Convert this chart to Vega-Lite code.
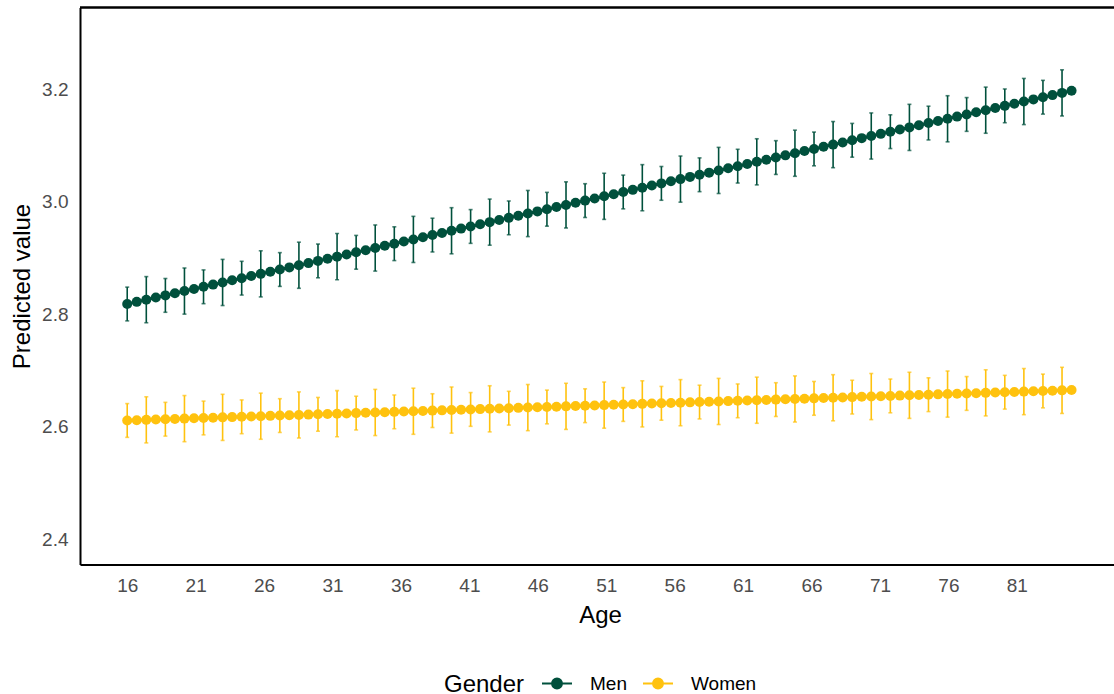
{
  "$schema": "https://vega.github.io/schema/vega-lite/v6.json",
  "width": 1034,
  "height": 557,
  "autosize": {"type": "none"},
  "padding": {"left": 80, "top": 7.5, "right": 0, "bottom": 129.5},
  "config": {
    "font": "Liberation Sans",
    "view": {"stroke": null},
    "axis": {"grid": false, "ticks": false, "domainColor": "#000000", "domainWidth": 2, "labelColor": "#4D4D4D", "labelFontSize": 19, "labelFont": "Liberation Sans", "titleFontSize": 24, "titleFontWeight": "normal", "titleColor": "#000000", "titleFont": "Liberation Sans"}
  },
  "data": {"values": [
    {"a":16,"g":"Men","v":2.818,"e":0.03},{"a":16.697,"g":"Men","v":2.8218},{"a":17.394,"g":"Men","v":2.8257,"e":0.041},{"a":18.091,"g":"Men","v":2.8295},
    {"a":18.788,"g":"Men","v":2.8333,"e":0.03},{"a":19.485,"g":"Men","v":2.8371},{"a":20.182,"g":"Men","v":2.841,"e":0.041},{"a":20.879,"g":"Men","v":2.8448},
    {"a":21.576,"g":"Men","v":2.8486,"e":0.03},{"a":22.273,"g":"Men","v":2.8525},{"a":22.97,"g":"Men","v":2.8563,"e":0.041},{"a":23.667,"g":"Men","v":2.8601},
    {"a":24.364,"g":"Men","v":2.8639,"e":0.03},{"a":25.061,"g":"Men","v":2.8678},{"a":25.758,"g":"Men","v":2.8716,"e":0.041},{"a":26.455,"g":"Men","v":2.8754},
    {"a":27.152,"g":"Men","v":2.8793,"e":0.03},{"a":27.848,"g":"Men","v":2.8831},{"a":28.545,"g":"Men","v":2.8869,"e":0.041},{"a":29.242,"g":"Men","v":2.8907},
    {"a":29.939,"g":"Men","v":2.8946,"e":0.03},{"a":30.636,"g":"Men","v":2.8984},{"a":31.333,"g":"Men","v":2.9022,"e":0.041},{"a":32.03,"g":"Men","v":2.9061},
    {"a":32.727,"g":"Men","v":2.9099,"e":0.03},{"a":33.424,"g":"Men","v":2.9137},{"a":34.121,"g":"Men","v":2.9175,"e":0.041},{"a":34.818,"g":"Men","v":2.9214},
    {"a":35.515,"g":"Men","v":2.9252,"e":0.03},{"a":36.212,"g":"Men","v":2.929},{"a":36.909,"g":"Men","v":2.9328,"e":0.041},{"a":37.606,"g":"Men","v":2.9367},
    {"a":38.303,"g":"Men","v":2.9405,"e":0.03},{"a":39,"g":"Men","v":2.9443},{"a":39.697,"g":"Men","v":2.9482,"e":0.041},{"a":40.394,"g":"Men","v":2.952},
    {"a":41.091,"g":"Men","v":2.9558,"e":0.03},{"a":41.788,"g":"Men","v":2.9596},{"a":42.485,"g":"Men","v":2.9635,"e":0.041},{"a":43.182,"g":"Men","v":2.9673},
    {"a":43.879,"g":"Men","v":2.9711,"e":0.03},{"a":44.576,"g":"Men","v":2.975},{"a":45.273,"g":"Men","v":2.9788,"e":0.041},{"a":45.97,"g":"Men","v":2.9826},
    {"a":46.667,"g":"Men","v":2.9864,"e":0.03},{"a":47.364,"g":"Men","v":2.9903},{"a":48.061,"g":"Men","v":2.9941,"e":0.041},{"a":48.758,"g":"Men","v":2.9979},
    {"a":49.455,"g":"Men","v":3.0018,"e":0.03},{"a":50.152,"g":"Men","v":3.0056},{"a":50.848,"g":"Men","v":3.0094,"e":0.041},{"a":51.545,"g":"Men","v":3.0132},
    {"a":52.242,"g":"Men","v":3.0171,"e":0.03},{"a":52.939,"g":"Men","v":3.0209},{"a":53.636,"g":"Men","v":3.0247,"e":0.041},{"a":54.333,"g":"Men","v":3.0286},
    {"a":55.03,"g":"Men","v":3.0324,"e":0.03},{"a":55.727,"g":"Men","v":3.0362},{"a":56.424,"g":"Men","v":3.04,"e":0.041},{"a":57.121,"g":"Men","v":3.0439},
    {"a":57.818,"g":"Men","v":3.0477,"e":0.03},{"a":58.515,"g":"Men","v":3.0515},{"a":59.212,"g":"Men","v":3.0554,"e":0.041},{"a":59.909,"g":"Men","v":3.0592},
    {"a":60.606,"g":"Men","v":3.063,"e":0.03},{"a":61.303,"g":"Men","v":3.0668},{"a":62,"g":"Men","v":3.0707,"e":0.041},{"a":62.697,"g":"Men","v":3.0745},
    {"a":63.394,"g":"Men","v":3.0783,"e":0.03},{"a":64.091,"g":"Men","v":3.0822},{"a":64.788,"g":"Men","v":3.086,"e":0.041},{"a":65.485,"g":"Men","v":3.0898},
    {"a":66.182,"g":"Men","v":3.0936,"e":0.03},{"a":66.879,"g":"Men","v":3.0975},{"a":67.576,"g":"Men","v":3.1013,"e":0.041},{"a":68.273,"g":"Men","v":3.1051},
    {"a":68.97,"g":"Men","v":3.109,"e":0.03},{"a":69.667,"g":"Men","v":3.1128},{"a":70.364,"g":"Men","v":3.1166,"e":0.041},{"a":71.061,"g":"Men","v":3.1204},
    {"a":71.758,"g":"Men","v":3.1243,"e":0.03},{"a":72.455,"g":"Men","v":3.1281},{"a":73.152,"g":"Men","v":3.1319,"e":0.041},{"a":73.848,"g":"Men","v":3.1357},
    {"a":74.545,"g":"Men","v":3.1396,"e":0.03},{"a":75.242,"g":"Men","v":3.1434},{"a":75.939,"g":"Men","v":3.1472,"e":0.041},{"a":76.636,"g":"Men","v":3.1511},
    {"a":77.333,"g":"Men","v":3.1549,"e":0.03},{"a":78.03,"g":"Men","v":3.1587},{"a":78.727,"g":"Men","v":3.1625,"e":0.041},{"a":79.424,"g":"Men","v":3.1664},
    {"a":80.121,"g":"Men","v":3.1702,"e":0.03},{"a":80.818,"g":"Men","v":3.174},{"a":81.515,"g":"Men","v":3.1779,"e":0.041},{"a":82.212,"g":"Men","v":3.1817},
    {"a":82.909,"g":"Men","v":3.1855,"e":0.03},{"a":83.606,"g":"Men","v":3.1893},{"a":84.303,"g":"Men","v":3.1932,"e":0.041},{"a":85,"g":"Men","v":3.197},
    {"a":16,"g":"Women","v":2.611,"e":0.03},{"a":16.697,"g":"Women","v":2.6115},{"a":17.394,"g":"Women","v":2.6121,"e":0.041},{"a":18.091,"g":"Women","v":2.6126},
    {"a":18.788,"g":"Women","v":2.6132,"e":0.03},{"a":19.485,"g":"Women","v":2.6137},{"a":20.182,"g":"Women","v":2.6143,"e":0.041},{"a":20.879,"g":"Women","v":2.6148},
    {"a":21.576,"g":"Women","v":2.6154,"e":0.03},{"a":22.273,"g":"Women","v":2.6159},{"a":22.97,"g":"Women","v":2.6165,"e":0.041},{"a":23.667,"g":"Women","v":2.617},
    {"a":24.364,"g":"Women","v":2.6175,"e":0.03},{"a":25.061,"g":"Women","v":2.6181},{"a":25.758,"g":"Women","v":2.6186,"e":0.041},{"a":26.455,"g":"Women","v":2.6192},
    {"a":27.152,"g":"Women","v":2.6197,"e":0.03},{"a":27.848,"g":"Women","v":2.6203},{"a":28.545,"g":"Women","v":2.6208,"e":0.041},{"a":29.242,"g":"Women","v":2.6214},
    {"a":29.939,"g":"Women","v":2.6219,"e":0.03},{"a":30.636,"g":"Women","v":2.6225},{"a":31.333,"g":"Women","v":2.623,"e":0.041},{"a":32.03,"g":"Women","v":2.6235},
    {"a":32.727,"g":"Women","v":2.6241,"e":0.03},{"a":33.424,"g":"Women","v":2.6246},{"a":34.121,"g":"Women","v":2.6252,"e":0.041},{"a":34.818,"g":"Women","v":2.6257},
    {"a":35.515,"g":"Women","v":2.6263,"e":0.03},{"a":36.212,"g":"Women","v":2.6268},{"a":36.909,"g":"Women","v":2.6274,"e":0.041},{"a":37.606,"g":"Women","v":2.6279},
    {"a":38.303,"g":"Women","v":2.6285,"e":0.03},{"a":39,"g":"Women","v":2.629},{"a":39.697,"g":"Women","v":2.6295,"e":0.041},{"a":40.394,"g":"Women","v":2.6301},
    {"a":41.091,"g":"Women","v":2.6306,"e":0.03},{"a":41.788,"g":"Women","v":2.6312},{"a":42.485,"g":"Women","v":2.6317,"e":0.041},{"a":43.182,"g":"Women","v":2.6323},
    {"a":43.879,"g":"Women","v":2.6328,"e":0.03},{"a":44.576,"g":"Women","v":2.6334},{"a":45.273,"g":"Women","v":2.6339,"e":0.041},{"a":45.97,"g":"Women","v":2.6345},
    {"a":46.667,"g":"Women","v":2.635,"e":0.03},{"a":47.364,"g":"Women","v":2.6355},{"a":48.061,"g":"Women","v":2.6361,"e":0.041},{"a":48.758,"g":"Women","v":2.6366},
    {"a":49.455,"g":"Women","v":2.6372,"e":0.03},{"a":50.152,"g":"Women","v":2.6377},{"a":50.848,"g":"Women","v":2.6383,"e":0.041},{"a":51.545,"g":"Women","v":2.6388},
    {"a":52.242,"g":"Women","v":2.6394,"e":0.03},{"a":52.939,"g":"Women","v":2.6399},{"a":53.636,"g":"Women","v":2.6405,"e":0.041},{"a":54.333,"g":"Women","v":2.641},
    {"a":55.03,"g":"Women","v":2.6415,"e":0.03},{"a":55.727,"g":"Women","v":2.6421},{"a":56.424,"g":"Women","v":2.6426,"e":0.041},{"a":57.121,"g":"Women","v":2.6432},
    {"a":57.818,"g":"Women","v":2.6437,"e":0.03},{"a":58.515,"g":"Women","v":2.6443},{"a":59.212,"g":"Women","v":2.6448,"e":0.041},{"a":59.909,"g":"Women","v":2.6454},
    {"a":60.606,"g":"Women","v":2.6459,"e":0.03},{"a":61.303,"g":"Women","v":2.6465},{"a":62,"g":"Women","v":2.647,"e":0.041},{"a":62.697,"g":"Women","v":2.6475},
    {"a":63.394,"g":"Women","v":2.6481,"e":0.03},{"a":64.091,"g":"Women","v":2.6486},{"a":64.788,"g":"Women","v":2.6492,"e":0.041},{"a":65.485,"g":"Women","v":2.6497},
    {"a":66.182,"g":"Women","v":2.6503,"e":0.03},{"a":66.879,"g":"Women","v":2.6508},{"a":67.576,"g":"Women","v":2.6514,"e":0.041},{"a":68.273,"g":"Women","v":2.6519},
    {"a":68.97,"g":"Women","v":2.6525,"e":0.03},{"a":69.667,"g":"Women","v":2.653},{"a":70.364,"g":"Women","v":2.6535,"e":0.041},{"a":71.061,"g":"Women","v":2.6541},
    {"a":71.758,"g":"Women","v":2.6546,"e":0.03},{"a":72.455,"g":"Women","v":2.6552},{"a":73.152,"g":"Women","v":2.6557,"e":0.041},{"a":73.848,"g":"Women","v":2.6563},
    {"a":74.545,"g":"Women","v":2.6568,"e":0.03},{"a":75.242,"g":"Women","v":2.6574},{"a":75.939,"g":"Women","v":2.6579,"e":0.041},{"a":76.636,"g":"Women","v":2.6585},
    {"a":77.333,"g":"Women","v":2.659,"e":0.03},{"a":78.03,"g":"Women","v":2.6595},{"a":78.727,"g":"Women","v":2.6601,"e":0.041},{"a":79.424,"g":"Women","v":2.6606},
    {"a":80.121,"g":"Women","v":2.6612,"e":0.03},{"a":80.818,"g":"Women","v":2.6617},{"a":81.515,"g":"Women","v":2.6623,"e":0.041},{"a":82.212,"g":"Women","v":2.6628},
    {"a":82.909,"g":"Women","v":2.6634,"e":0.03},{"a":83.606,"g":"Women","v":2.6639},{"a":84.303,"g":"Women","v":2.6645,"e":0.041},{"a":85,"g":"Women","v":2.665}
  ]},
  "layer": [
    {
      "encoding": {
        "x": {"field": "a", "type": "quantitative", "scale": {"domain": [12.55, 88.1], "nice": false, "zero": false},
              "axis": {"values": [16,21,26,31,36,41,46,51,56,61,66,71,76,81], "title": "Age", "labelPadding": 12, "titlePadding": 8, "titleX": 520}},
        "y": {"field": "v", "type": "quantitative", "scale": {"domain": [2.355, 3.345], "nice": false, "zero": false},
              "axis": {"values": [2.4,2.6,2.8,3.0,3.2], "format": ".1f", "title": "Predicted value", "labelPadding": 12, "titlePadding": 7}},
        "color": {"field": "g", "type": "nominal", "scale": {"domain": ["Men","Women"], "range": ["#00503C","#FFC20E"]},
                  "legend": {"orient": "none", "legendX": 364, "legendY": 660, "direction": "horizontal", "titleOrient": "left", "title": "Gender",
                             "titleFontSize": 24, "titleFontWeight": "normal", "titleColor": "#000000", "labelFontSize": 19, "labelColor": "#000000",
                             "labelBaseline": "middle",
                             "symbolType": "M-1,0H1M-0.33,0A0.33,0.33 0 1,1 0.33,0A0.33,0.33 0 1,1 -0.33,0Z", "symbolSize": 900, "symbolStrokeWidth": 2,
                             "symbolOpacity": 1, "labelOffset": 17, "columnPadding": 12, "titlePadding": 16,
                             "encode": {"title": {"update": {"dy": {"value": 4}}},
                                        "symbols": {"update": {"fill": {"scale": "color", "field": "value"}, "stroke": {"scale": "color", "field": "value"}}}}}}
      },
      "layer": [
        {"mark": {"type": "line", "strokeWidth": 3}},
        {"transform": [{"filter": "isValid(datum.e)"}], "mark": {"type": "errorbar", "ticks": {"size": 4}, "thickness": 1.6}, "encoding": {"yError": {"field": "e"}}},
        {"mark": {"type": "point", "filled": true, "size": 100, "opacity": 1}}
      ]
    },
    {
      "data": {"values": [{}]},
      "mark": {"type": "rule", "color": "#000000", "strokeWidth": 2.5},
      "encoding": {"y": {"datum": 3.345, "type": "quantitative"}}
    }
  ]
}
